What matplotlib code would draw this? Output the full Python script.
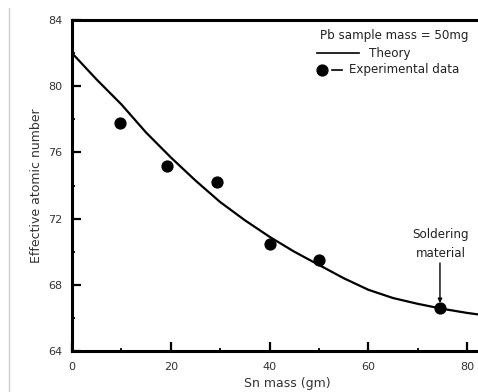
import matplotlib
matplotlib.use("Agg")
import matplotlib.pyplot as plt
from matplotlib.lines import Line2D
from matplotlib.ticker import MultipleLocator

# Data
theory_x = [0, 5, 10, 15, 20, 25, 30, 35, 40, 45, 50, 55, 60, 65, 70, 75, 80, 82.5]
theory_y = [82.0, 80.4, 78.9, 77.2, 75.7, 74.3, 73.0, 71.9, 70.9, 70.0, 69.2, 68.4,
            67.7, 67.2, 66.85, 66.55, 66.3, 66.2]
exp_x = [9.8, 19.3, 29.4, 40.0, 50.1, 74.5]
exp_y = [77.8, 75.2, 74.2, 70.45, 69.5, 66.6]
xticks = [0, 20, 40, 60, 80]
yticks = [64, 68, 72, 76, 80, 84]

plt.rcParams['font.family'] = ['DejaVu Sans']

W, H = 478, 392
fig = plt.figure(figsize=(W / 100, H / 100), dpi=100)
L, R, T, B = 72, 478, 20, 351
ax = fig.add_axes([L / W, (H - B) / H, (R - L) / W, (B - T) / H])

ax.plot(theory_x, theory_y, color='black', lw=1.6, solid_capstyle='butt')
ax.plot(exp_x, exp_y, 'o', color='black', ms=7.8, mec='black')

ax.set_xlim(0, 82.2)
ax.set_ylim(64, 84)
ax.set_xticks(xticks)
ax.set_yticks(yticks)
ax.xaxis.set_minor_locator(MultipleLocator(10))
ax.yaxis.set_minor_locator(MultipleLocator(2))

for s in ['left', 'bottom', 'top']:
    ax.spines[s].set_linewidth(2.2)
ax.spines['right'].set_visible(False)
ax.tick_params(which='major', direction='in', length=6.5, width=1.6,
               labelsize=8, colors='black', labelcolor='#333333')
ax.tick_params(axis='y', which='major', pad=7)
ax.tick_params(axis='x', which='major', pad=8)
ax.tick_params(which='minor', direction='in', length=2.2, width=1.3)
ax.tick_params(top=False, right=False, which='both')

ax.set_xlabel('Sn mass (gm)', fontsize=9, color='#333333')
ax.xaxis.set_label_coords((287 - L) / (R - L), (B - 377) / (B - T))
ax.set_ylabel('Effective atomic number', fontsize=9, color='#333333')
ax.yaxis.set_label_coords((43 - L) / (R - L), 0.5)

def fx(px):
    return (px - L) / (R - L)

def fy(py):
    return (B - py) / (B - T)

tk = dict(fontsize=8.6, color='#222222')
ax.text(fx(469), fy(35), 'Pb sample mass = 50mg', transform=ax.transAxes,
        ha='right', va='center', **tk)
ax.add_line(Line2D([fx(317), fx(359)], [fy(53), fy(53)], transform=ax.transAxes,
                   color='black', lw=1.2))
ax.text(fx(369), fy(53), 'Theory', transform=ax.transAxes,
        ha='left', va='center', **tk)
ax.add_line(Line2D([fx(322)], [fy(70)], transform=ax.transAxes, marker='o',
                   color='black', ms=7.8, ls='none'))
ax.add_line(Line2D([fx(332), fx(342)], [fy(70), fy(70)], transform=ax.transAxes,
                   color='black', lw=1.2))
ax.text(fx(349), fy(70), 'Experimental data', transform=ax.transAxes,
        ha='left', va='center', **tk)

ax.text(fx(441), fy(244), 'Soldering\nmaterial', transform=ax.transAxes,
        ha='center', va='center', fontsize=8.6, color='#222222', linespacing=1.55)
ax.annotate('', xy=(exp_x[-1], exp_y[-1] + 0.3),
            xytext=(exp_x[-1], fy(263)), textcoords=('data', 'axes fraction'),
            arrowprops=dict(arrowstyle='-|>', color='black', lw=1.0,
                            mutation_scale=6, shrinkA=0, shrinkB=0))

fig.add_artist(Line2D([8.5 / W, 8.5 / W], [0, 1 - 8 / H], transform=fig.transFigure,
                      color='#cccccc', lw=1))

fig.savefig('out.png', dpi=100)
